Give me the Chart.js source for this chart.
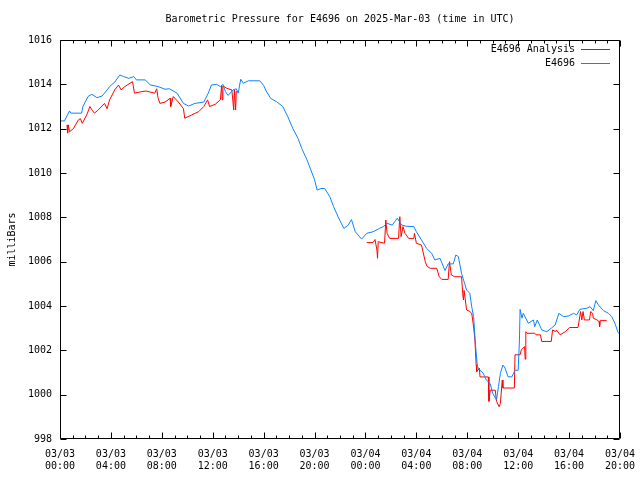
<!DOCTYPE html>
<html>
<head>
<meta charset="utf-8">
<script src="https://cdn.jsdelivr.net/npm/chart.js@4"></script>
<style>
  html, body { margin: 0; padding: 0; background: #fff; }
  #wrap { width: 640px; height: 480px; }
</style>
</head>
<body>
<div id="wrap"><canvas id="chart" width="640" height="480"></canvas></div>
<script>
// hours since 2025-03-03 00:00 UTC
const stationHours = [0.0, 0.35, 0.75, 0.85, 1.7, 1.8, 2.2, 2.5, 2.9, 3.3, 3.5, 3.9, 4.3, 4.7, 5.0, 5.4, 5.8, 6.0, 6.7, 7.1,
  7.7, 8.25, 8.6, 9.2, 9.7, 10.1, 10.6, 11.3, 11.65, 11.9, 12.3, 12.6, 12.8, 13.0, 13.2, 13.6, 13.85, 14.0, 14.2, 14.4,
  14.8, 15.7, 16.0, 16.2, 16.55, 17.0, 17.5, 17.9, 18.3, 18.7, 19.0, 19.4, 19.8, 20.0, 20.2, 20.5, 20.8, 21.2, 21.5, 21.9,
  22.3, 22.65, 22.9, 23.2, 23.7, 24.1, 24.6, 25.1, 25.4, 25.7, 26.1, 26.3, 26.5, 26.85, 27.2, 27.8, 28.0, 28.4, 28.8, 29.2,
  29.45, 29.86, 30.25, 30.5, 30.9, 31.1, 31.3, 31.55, 31.8, 31.95, 32.2, 32.35, 32.5, 32.6, 32.7, 32.8, 33.0, 33.25, 33.5, 33.8,
  34.0, 34.3, 34.45, 34.6, 34.8, 34.97, 35.2, 35.5, 35.75, 36.0, 36.1, 36.15, 36.3, 36.4, 36.8, 37.2, 37.3, 37.5, 37.85, 38.25,
  38.6, 38.9, 39.2, 39.55, 39.95, 40.35, 40.6, 40.85, 41.4, 41.65, 41.9, 42.1, 42.3, 42.7, 43.1, 43.35, 43.6, 43.85, 43.95];
const stationValues = [1012.35, 1012.35, 1012.8, 1012.7, 1012.7, 1013.0, 1013.45, 1013.55, 1013.4, 1013.47, 1013.6, 1013.9, 1014.1, 1014.42, 1014.35, 1014.27, 1014.35, 1014.2, 1014.2, 1013.97,
  1013.9, 1013.78, 1013.8, 1013.6, 1013.14, 1013.02, 1013.14, 1013.2, 1013.6, 1013.97, 1014.0, 1013.9, 1014.0, 1013.67, 1013.5, 1013.75, 1013.8, 1013.6, 1014.23, 1014.05,
  1014.16, 1014.16, 1013.95, 1013.7, 1013.37, 1013.22, 1013.0, 1012.54, 1012.0, 1011.56, 1011.1, 1010.6, 1010.0, 1009.7, 1009.23, 1009.3, 1009.3, 1008.93, 1008.48, 1007.96,
  1007.5, 1007.65, 1007.9, 1007.35, 1007.02, 1007.28, 1007.35, 1007.5, 1007.58, 1007.73, 1007.65, 1007.8, 1007.96, 1007.65, 1007.6, 1007.58, 1007.35, 1006.98, 1006.6, 1006.38,
  1006.08, 1006.15, 1005.6, 1005.9, 1005.9, 1006.3, 1006.23, 1005.47, 1005.0, 1004.72, 1004.57, 1003.97, 1003.52, 1002.6, 1001.87, 1001.27, 1001.1, 1000.97, 1000.66, 1000.5,
  1000.06, 999.76, 1000.36, 1000.96, 1001.34, 1001.2, 1000.81, 1000.8, 1001.1, 1001.1, 1002.47, 1003.85, 1003.45, 1003.67, 1003.22, 1003.37, 1003.07, 1003.37, 1002.92, 1002.84,
  1003.0, 1003.14, 1003.67, 1003.52, 1003.55, 1003.67, 1003.6, 1003.85, 1003.9, 1003.97, 1003.79, 1004.24, 1004.05, 1003.79, 1003.67, 1003.52, 1003.22, 1002.8, 1002.75];

// analysis series, null = no data (gap)
const analysisHours = [0.55, 0.6, 0.65, 0.75, 1.05, 1.45, 1.6, 1.75, 2.1, 2.35, 2.5, 2.7, 3.0, 3.5, 3.7, 3.9, 4.3, 4.6, 4.8, 5.1,
  5.5, 5.7, 5.85, 6.4, 6.75, 7.45, 7.6, 7.7, 7.85, 8.25, 8.65, 8.7, 8.9, 9.3, 9.7, 9.8, 10.35, 10.9, 11.3, 11.6,
  11.75, 12.2, 12.6, 12.7, 12.75, 12.8, 13.1, 13.5, 13.65, 13.7, 13.8, 13.85, 19.0,
  24.1, 24.6, 24.75, 24.9, 24.95, 25.0, 25.5, 25.6, 25.7, 25.9, 26.6, 26.7, 26.8, 26.95, 27.1, 27.4, 27.8, 27.85, 28.0, 28.4,
  28.7, 28.85, 29.1, 29.6, 29.8, 30.0, 30.5, 30.6, 30.75, 31.0, 31.55, 31.65, 31.7, 31.75, 31.95, 32.2, 32.35, 32.5, 32.6, 32.7,
  32.75, 32.95, 33.0, 33.65, 33.7, 33.8, 34.2, 34.3, 34.5, 34.6, 34.75, 34.8, 35.7, 35.75, 36.15, 36.25, 36.5, 36.55, 36.6, 36.7,
  37.3, 37.4, 37.75, 37.85, 38.6, 38.7, 38.95, 39.0, 39.3, 39.7, 40.05, 40.7, 40.8, 40.9, 41.0, 41.1, 41.2, 41.6, 41.7, 41.85,
  41.9, 42.2, 42.35, 42.4, 42.45, 42.95];
const analysisValues = [1012.17, 1011.8, 1012.17, 1011.86, 1012.0, 1012.4, 1012.45, 1012.24, 1012.62, 1013.0, 1012.85, 1012.7, 1012.84, 1013.14, 1012.9, 1013.3, 1013.75, 1013.97, 1013.75, 1013.9,
  1014.05, 1014.12, 1013.6, 1013.67, 1013.7, 1013.6, 1013.8, 1013.4, 1013.14, 1013.2, 1013.37, 1013.0, 1013.45, 1013.2, 1012.9, 1012.47, 1012.62, 1012.77, 1013.0, 1013.3,
  1013.0, 1013.1, 1013.3, 1013.93, 1013.3, 1013.93, 1013.82, 1013.75, 1012.84, 1013.75, 1012.84, 1013.7, null,
  1006.86, 1006.86, 1007.0, 1006.53, 1006.15, 1006.9, 1006.83, 1007.88, 1007.28, 1007.05, 1007.05, 1008.03, 1007.13, 1007.58, 1007.28, 1007.05, 1007.05, 1007.28, 1006.83, 1006.75,
  1006.0, 1005.78, 1005.7, 1005.7, 1005.32, 1005.2, 1005.2, 1006.0, 1005.4, 1005.32, 1005.32, 1004.5, 1004.27, 1004.7, 1003.82, 1003.75, 1003.67, 1003.05, 1002.47, 1001.34,
  1001.04, 1001.2, 1000.8, 1000.8, 999.7, 1000.2, 1000.2, 999.7, 999.46, 999.6, 1000.66, 1000.3, 1000.3, 1001.8, 1001.8, 1002.02, 1002.17, 1001.6, 1002.84, 1002.77,
  1002.77, 1002.7, 1002.7, 1002.4, 1002.4, 1002.92, 1002.84, 1002.92, 1002.7, 1002.84, 1003.03, 1003.03, 1003.37, 1003.75, 1003.37, 1003.75, 1003.37, 1003.37, 1003.75, 1003.67,
  1003.45, 1003.37, 1003.3, 1003.07, 1003.34, 1003.34];

// labels every 4 hours
const tickDates = ['03/03', '03/03', '03/03', '03/03', '03/03', '03/03', '03/04', '03/04', '03/04', '03/04', '03/04', '03/04'];
const tickTimes = ['00:00', '04:00', '08:00', '12:00', '16:00', '20:00', '00:00', '04:00', '08:00', '12:00', '16:00', '20:00'];

const seriesNames = ['E4696 Analysis', 'E4696'];
const seriesColors = ['#ff0000', '#0a84ff'];

const monoFont = { family: "'DejaVu Sans Mono', monospace", size: 10, weight: 'normal' };

function toPoints(xs, ys) {
  return xs.map((h, i) => ({ x: h, y: ys[i] }));
}

// gnuplot-ish frame: border, inward ticks on all sides, key in top right
const gnuFrame = {
  id: 'gnuFrame',
  afterDatasetsDraw(chart) {
    const ctx = chart.ctx;
    const a = chart.chartArea;
    const xs = chart.scales.x, ys = chart.scales.y;
    const L = Math.round(a.left) + 0.5, R = Math.round(a.right) - 0.5;
    const T = Math.round(a.top) + 0.5, B = Math.round(a.bottom) - 0.5;
    ctx.save();
    ctx.strokeStyle = '#000';
    ctx.lineWidth = 1;
    ctx.beginPath();
    ctx.rect(L, T, R - L, B - T);
    xs.ticks.forEach(t => {
      const px = Math.round(xs.getPixelForValue(t.value)) + 0.5;
      const len = (t.value % 4 === 0) ? 6 : 3;
      ctx.moveTo(px, B); ctx.lineTo(px, B - len);
      ctx.moveTo(px, T); ctx.lineTo(px, T + len);
    });
    ys.ticks.forEach(t => {
      const py = Math.round(ys.getPixelForValue(t.value)) + 0.5;
      ctx.moveTo(L, py); ctx.lineTo(L + 6, py);
      ctx.moveTo(R, py); ctx.lineTo(R - 6, py);
    });
    ctx.stroke();

    // key
    ctx.font = "10px 'DejaVu Sans Mono', monospace";
    ctx.textAlign = 'right';
    ctx.textBaseline = 'middle';
    ctx.fillStyle = '#000';
    seriesNames.forEach((name, i) => {
      const ry = Math.round(a.top) + 9 + i * 14;
      ctx.fillText(name, 575, ry);
      ctx.strokeStyle = seriesColors[i];
      ctx.beginPath();
      ctx.moveTo(581, ry + 0.5);
      ctx.lineTo(610, ry + 0.5);
      ctx.stroke();
    });
    ctx.restore();
  }
};

const ctx = document.getElementById('chart').getContext('2d');
const myChart = new Chart(ctx, {
  type: 'line',
  data: {
    datasets: [{
      label: seriesNames[0],
      data: toPoints(analysisHours, analysisValues),
      borderColor: seriesColors[0],
      borderWidth: 1,
      pointRadius: 0,
      tension: 0,
      spanGaps: false,
      order: 2
    }, {
      label: seriesNames[1],
      data: toPoints(stationHours, stationValues),
      borderColor: seriesColors[1],
      borderWidth: 1,
      pointRadius: 0,
      tension: 0,
      order: 1
    }]
  },
  options: {
    responsive: false,
    animation: false,
    events: [],
    layout: { padding: { left: 0, right: 20, top: 0, bottom: 0 } },
    plugins: {
      legend: { display: false },
      tooltip: { enabled: false },
      title: {
        display: true,
        text: 'Barometric Pressure for E4696 on 2025-Mar-03 (time in UTC)',
        color: '#000',
        font: monoFont,
        fullSize: false,
        padding: { top: 13, bottom: 15 }
      }
    },
    scales: {
      x: {
        type: 'linear',
        min: 0,
        max: 44,
        afterFit: (s) => { s.height = 41; s.paddingLeft = 0; s.paddingRight = 0; },
        grid: { display: false, drawTicks: false },
        border: { display: false },
        ticks: {
          stepSize: 1,
          autoSkip: false,
          maxRotation: 0,
          padding: 9,
          color: '#000',
          font: monoFont,
          callback: (v) => (v % 4 === 0 ? [tickDates[v / 4], tickTimes[v / 4]] : '')
        }
      },
      y: {
        min: 998,
        max: 1016,
        afterFit: (s) => { s.width = 60; },
        grid: { display: false, drawTicks: false },
        border: { display: false },
        title: {
          display: true,
          text: 'milliBars',
          color: '#000',
          font: monoFont,
          padding: { top: 6, bottom: 0 }
        },
        ticks: {
          stepSize: 2,
          padding: 8,
          color: '#000',
          font: monoFont,
          callback: (v) => String(v)
        }
      }
    }
  },
  plugins: [gnuFrame]
});
</script>
</body>
</html>
